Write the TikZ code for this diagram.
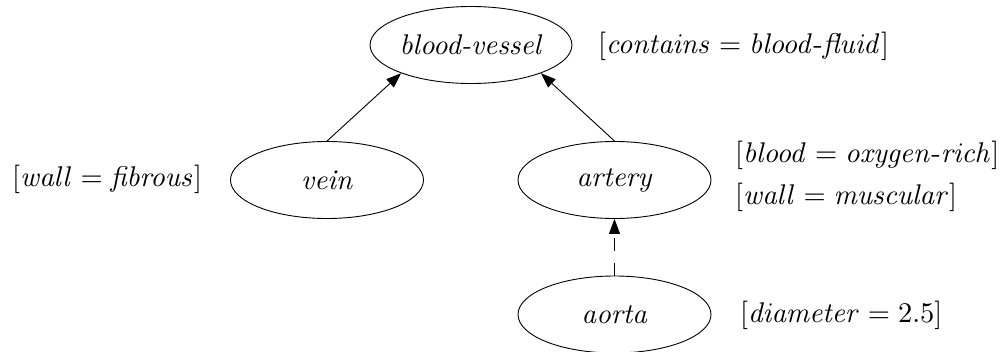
\documentclass[tikz,border=0pt]{standalone}
\usepackage{graphicx}
\usetikzlibrary{shapes.geometric,arrows.meta}
% enlarge a label to the drawing's text size
\newcommand{\biglbl}[1]{\scalebox{2.85}{#1}}
\begin{document}
\begin{tikzpicture}[x=1pt,y=-1pt,
  concept/.style={draw,ellipse,line width=0.9pt,inner sep=0pt,
    minimum width=193pt,minimum height=77pt},
  attr/.style={anchor=west,inner sep=0pt},
  isa/.style={line width=0.9pt,-{Triangle[length=15pt,width=11pt]}},
  inst/.style={isa,dash pattern=on 13pt off 12pt}]
\useasboundingbox (0,0) rectangle (1007,351);
% concept hierarchy
\node[concept] (bv)     at (471,45)    {\biglbl{\textit{blood-vessel}}};
\node[concept] (vein)   at (327,180)   {\biglbl{\textit{vein}}};
\node[concept] (artery) at (614.5,180) {\biglbl{\textit{artery}}};
\node[concept] (aorta)  at (614.5,314.5) {\biglbl{\textit{aorta}}};
% attribute annotations
\node[attr] (bvattr)   at (598,46)  {\biglbl{$[\mathit{contains} = \mathit{blood\mbox{-}fluid}]$}};
\node[attr] (veinattr) at (12,179)  {\biglbl{$[\mathit{wall} = \mathit{fibrous}]$}};
\node[attr] (artattrA) at (735,155) {\biglbl{$[\mathit{blood} = \mathit{oxygen\mbox{-}rich}]$}};
\node[attr] (artattrB) at (735,197) {\biglbl{$[\mathit{wall} = \mathit{muscular}]$}};
\node[attr] (aortattr) at (740,315) {\biglbl{$[\mathit{diameter} = 2.5]$}};
% links
\draw[isa] (vein.north) -- (bv.202);
\draw[isa] (artery.north) -- (bv.338);
\draw[inst] (aorta.north) -- (artery.south);
\end{tikzpicture}
\end{document}
